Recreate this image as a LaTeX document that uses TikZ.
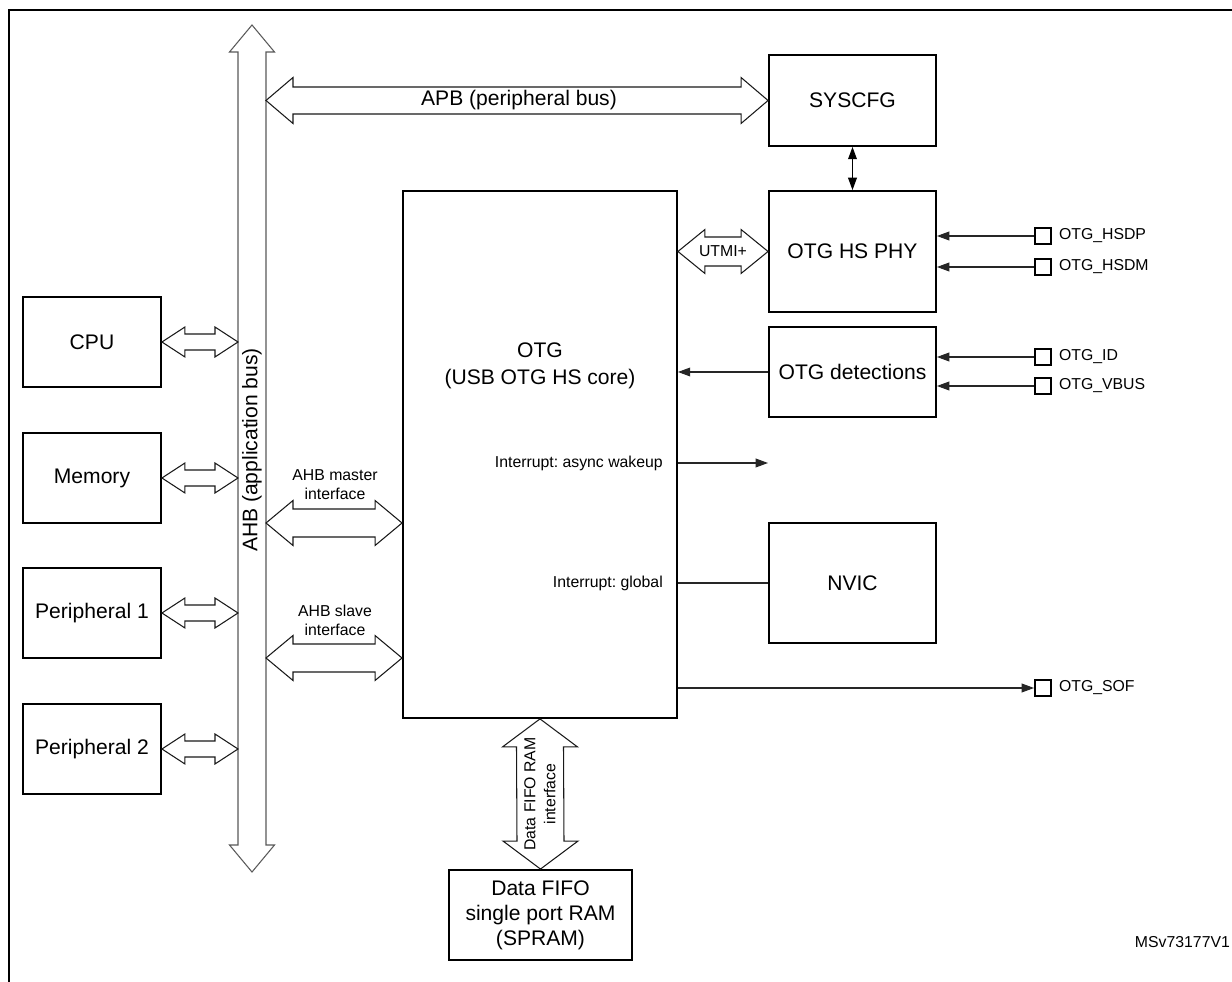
\documentclass[tikz,border=0pt]{standalone}
\usepackage{fontspec}
\setmainfont{Liberation Sans}
\usetikzlibrary{calc,arrows.meta}
\frenchspacing

% wide double arrows: tip, tip, shaft half width, head half width, head length
\newcommand{\hfat}[6][]{\draw[fatline,#1] (#2) -- ($(#2)+(#6,#5)$) -- ($(#2)+(#6,#4)$) -- ($(#3)+(-#6,#4)$) -- ($(#3)+(-#6,#5)$) -- (#3) -- ($(#3)+(-#6,-#5)$) -- ($(#3)+(-#6,-#4)$) -- ($(#2)+(#6,-#4)$) -- ($(#2)+(#6,-#5)$) -- cycle;}
\newcommand{\vfat}[6][]{\draw[fatline,#1] (#2) -- ($(#2)+(#5,#6)$) -- ($(#2)+(#4,#6)$) -- ($(#3)+(#4,-#6)$) -- ($(#3)+(#5,-#6)$) -- (#3) -- ($(#3)+(-#5,-#6)$) -- ($(#3)+(-#4,-#6)$) -- ($(#2)+(-#4,#6)$) -- ($(#2)+(-#5,#6)$) -- cycle;}

\begin{document}
\begin{tikzpicture}[x=0.02cm,y=-0.02cm,
    big/.style={font=\fontsize{12}{14.2}\selectfont},
    lbl/.style={font=\fontsize{9}{10.8}\selectfont},
    blk/.style={draw,line width=1.1pt,inner sep=0pt,align=center,big},
    port/.style={draw,line width=1.1pt,minimum size=0.32cm,inner sep=0pt,label={[lbl,label distance=0.5pt]right:#1}},
    sig/.style={line width=0.6pt,draw=black!85,-{Triangle[length=7pt,width=5pt]}},
    sigboth/.style={line width=0.6pt,{Triangle[length=7pt,width=5pt]}-{Triangle[length=7pt,width=5pt]}},
    fatline/.style={draw=black!90,fill=white,line width=0.6pt}]
    \useasboundingbox (0,0) rectangle (1232,982);
    \draw[line width=1.4pt] (9,995) -- (9,10) -- (1245,10);
    % bus
    \coordinate (ahbtop) at (252,25);
    \coordinate (ahbbot) at (252,872);
    \coordinate (busL) at (238,0);
    \coordinate (busR) at (266,0);
    \vfat[draw=black!65]{ahbtop}{ahbbot}{14}{22.5}{27}
    \node[big,rotate=90] (ahblbl) at (252,450) {AHB (application bus)};
    % blocks
    \node[blk,minimum width=2.76cm,minimum height=1.8cm] (cpu) at (92,342) {CPU};
    \node[blk,minimum width=2.76cm,minimum height=1.8cm] (mem) at (92,478) {Memory};
    \node[blk,minimum width=2.76cm,minimum height=1.8cm] (per1) at (92,613) {Peripheral 1};
    \node[blk,minimum width=2.76cm,minimum height=1.8cm] (per2) at (92,749) {Peripheral 2};
    \node[blk,minimum width=3.34cm,minimum height=1.82cm] (syscfg) at (852.5,100.5) {SYSCFG};
    \node[blk,minimum width=3.34cm,minimum height=2.42cm] (phy) at (852.5,251.5) {OTG HS PHY};
    \node[blk,minimum width=3.34cm,minimum height=1.8cm] (det) at (852.5,372) {OTG detections};
    \node[blk,minimum width=3.34cm,minimum height=2.4cm] (nvic) at (852.5,583) {NVIC};
    \node[blk,minimum width=5.48cm,minimum height=10.54cm] (otg) at (540,454.5) {};
    \node[font=\fontsize{12}{15.3}\selectfont,align=center] (otgtxt) at (540,365.5) {OTG\\(USB OTG HS core)};
    \node[blk,minimum width=3.66cm,minimum height=1.8cm] (spram) at (540.5,915) {Data FIFO\\single port RAM\\(SPRAM)};
    % pins
    \node[port={OTG\_HSDP}] (hsdp) at (1043,236) {};
    \node[port={OTG\_HSDM}] (hsdm) at (1043,267) {};
    \node[port={OTG\_ID}] (id) at (1043,357) {};
    \node[port={OTG\_VBUS}] (vbus) at (1043,386) {};
    \node[port={OTG\_SOF}] (sof) at (1043,688) {};
    % wide arrows
    \coordinate (cpuA) at (cpu.east -| busL);
    \coordinate (memA) at (mem.east -| busL);
    \coordinate (per1A) at (per1.east -| busL);
    \coordinate (per2A) at (per2.east -| busL);
    \hfat{cpu.east}{cpuA}{8}{15}{23}
    \hfat{mem.east}{memA}{8}{15}{23}
    \hfat{per1.east}{per1A}{8}{15}{23}
    \hfat{per2.east}{per2A}{8}{15}{23}
    \coordinate (apbA) at (syscfg.west -| busR);
    \hfat{apbA}{syscfg.west}{13.5}{23}{27}
    \node[big] (apblbl) at (519,100.5) {APB (peripheral bus)};
    \coordinate (utmiA) at (phy.west -| otg.east);
    \hfat{utmiA}{phy.west}{14.5}{22}{27}
    \node[lbl] (utmilbl) at (723,251) {UTMI+};
    \coordinate (mstA) at (266,523);
    \coordinate (mstB) at (mstA -| otg.west);
    \hfat{mstA}{mstB}{14}{22.5}{27}
    \node[lbl,align=center] (mstlbl) at (335,484.5) {AHB master\\interface};
    \coordinate (slvA) at (266,658);
    \coordinate (slvB) at (slvA -| otg.west);
    \hfat{slvA}{slvB}{14}{22.5}{27}
    \node[lbl,align=center] (slvlbl) at (335,620.5) {AHB slave\\interface};
    \vfat{otg.south}{spram.north}{23.5}{37.5}{28}
    \node[lbl,rotate=90,align=center,font=\fontsize{9}{11.4}\selectfont] (fifolbl) at (540,794) {Data FIFO RAM\\interface};
    % signals
    \draw[sigboth] (syscfg.south) -- (phy.north);
    \draw[sig] (hsdp.west) -- (hsdp.west -| phy.east);
    \draw[sig] (hsdm.west) -- (hsdm.west -| phy.east);
    \draw[sig] (id.west) -- (id.west -| det.east);
    \draw[sig] (vbus.west) -- (vbus.west -| det.east);
    \draw[sig] (det.west) -- (det.west -| otg.east);
    \node[lbl,anchor=east] (wake) at (669,463) {Interrupt: async wakeup};
    \coordinate (wakeend) at (768,463);
    \draw[sig] (wake -| otg.east) -- (wakeend);
    \node[lbl,anchor=east] (glob) at (669,583) {Interrupt: global};
    \draw[line width=0.6pt,draw=black!85] (glob -| otg.east) -- (nvic.west);
    \draw[sig] (sof -| otg.east) -- (sof.west);
    \node[lbl,anchor=base east,inner sep=1pt] (msv) at (1232,948) {MSv73177V1};
\end{tikzpicture}
\end{document}
